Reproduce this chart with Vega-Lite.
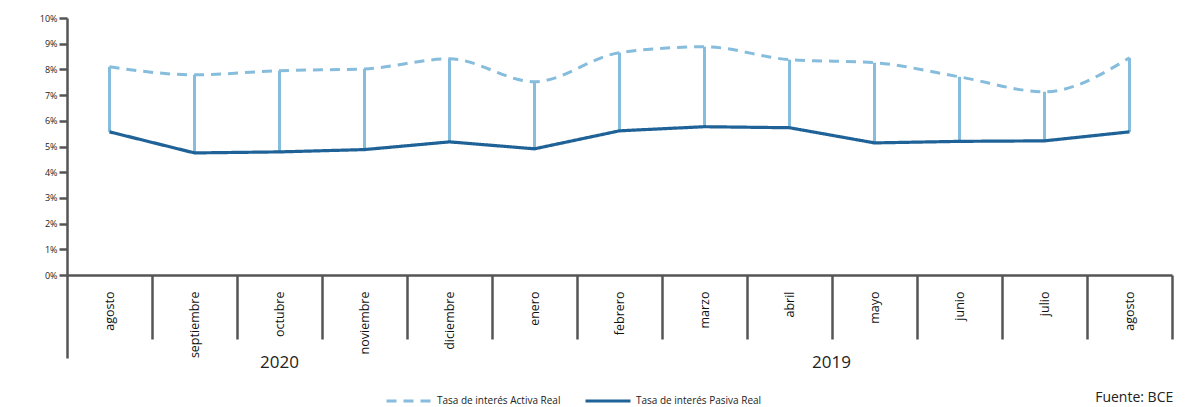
{
  "$schema": "https://vega.github.io/schema/vega-lite/v6.json",
  "width": 1105,
  "height": 257,
  "autosize": {"type": "none"},
  "padding": {"left": 67, "top": 18, "right": 16, "bottom": 132},
  "background": "white",
  "config": {"font": "Open Sans", "view": {"stroke": null}},
  "title": {"text": "Fuente: BCE", "orient": "bottom", "anchor": "end", "fontSize": 14, "fontWeight": "normal", "color": "#222", "offset": -16},
  "data": {
    "values": [
      {"mes": "agosto 2020", "Tasa de interés Activa Real": 8.1, "Tasa de interés Pasiva Real": 5.57},
      {"mes": "septiembre 2020", "Tasa de interés Activa Real": 7.79, "Tasa de interés Pasiva Real": 4.75},
      {"mes": "octubre 2020", "Tasa de interés Activa Real": 7.95, "Tasa de interés Pasiva Real": 4.79},
      {"mes": "noviembre 2020", "Tasa de interés Activa Real": 8.02, "Tasa de interés Pasiva Real": 4.88},
      {"mes": "diciembre 2020", "Tasa de interés Activa Real": 8.41, "Tasa de interés Pasiva Real": 5.18},
      {"mes": "enero 2019", "Tasa de interés Activa Real": 7.52, "Tasa de interés Pasiva Real": 4.91},
      {"mes": "febrero 2019", "Tasa de interés Activa Real": 8.65, "Tasa de interés Pasiva Real": 5.61},
      {"mes": "marzo 2019", "Tasa de interés Activa Real": 8.88, "Tasa de interés Pasiva Real": 5.77},
      {"mes": "abril 2019", "Tasa de interés Activa Real": 8.38, "Tasa de interés Pasiva Real": 5.73},
      {"mes": "mayo 2019", "Tasa de interés Activa Real": 8.26, "Tasa de interés Pasiva Real": 5.14},
      {"mes": "junio 2019", "Tasa de interés Activa Real": 7.71, "Tasa de interés Pasiva Real": 5.2},
      {"mes": "julio 2019", "Tasa de interés Activa Real": 7.13, "Tasa de interés Pasiva Real": 5.22},
      {"mes": "agosto 2019", "Tasa de interés Activa Real": 8.45, "Tasa de interés Pasiva Real": 5.57}
    ]
  },
  "resolve": {"axis": {"x": "independent"}},
  "layer": [
    {
      "mark": {"type": "rule", "color": "#86bcdc", "strokeWidth": 3},
      "encoding": {
        "x": {
          "field": "mes", "type": "ordinal",
          "scale": {"type": "band", "paddingInner": 0, "paddingOuter": 0,
            "domain": ["agosto 2020", "septiembre 2020", "octubre 2020", "noviembre 2020", "diciembre 2020", "enero 2019", "febrero 2019", "marzo 2019", "abril 2019", "mayo 2019", "junio 2019", "julio 2019", "agosto 2019"]},
          "axis": {
            "orient": "bottom",
            "title": null,
            "labelExpr": "split(datum.label, ' ')[0]",
            "labelAngle": -90,
            "labelFontSize": 12.5,
            "labelColor": "#111",
            "tickBand": "extent",
            "tickSize": {"condition": {"test": "datum.index < 0", "value": 83}, "value": 64},
            "tickWidth": 2.5,
            "tickColor": "#555",
            "domainColor": "#555",
            "domainWidth": 2.5,
            "labelPadding": -48
          }
        },
        "y": {
          "field": "Tasa de interés Activa Real", "type": "quantitative",
          "scale": {"domain": [0, 10], "nice": false},
          "axis": {
            "title": null,
            "values": [0, 1, 2, 3, 4, 5, 6, 7, 8, 9, 10],
            "labelExpr": "datum.value + '%'",
            "labelOverlap": false,
            "grid": false,
            "tickSize": 8,
            "tickWidth": 2.5,
            "tickColor": "#555",
            "domainColor": "#555",
            "domainWidth": 2.5,
            "labelFontSize": 9,
            "labelColor": "#222",
            "labelPadding": 2
          }
        },
        "y2": {"field": "Tasa de interés Pasiva Real"}
      }
    },
    {
      "transform": [
        {"fold": ["Tasa de interés Activa Real", "Tasa de interés Pasiva Real"], "as": ["serie", "valor"]},
        {"filter": "datum.serie == 'Tasa de interés Activa Real'"}
      ],
      "mark": {"type": "line", "strokeWidth": 3, "interpolate": "monotone"},
      "encoding": {
        "x": {
          "field": "mes", "type": "ordinal",
          "axis": {
            "orient": "bottom",
            "title": null,
            "labelExpr": "datum.value == 'octubre 2020' ? '2020' : (datum.value == 'abril 2019' ? '2019' : '')",
            "labelAngle": 0,
            "labelAlign": "center",
            "labelFontSize": 17,
            "labelColor": "#222",
            "labelOverlap": false,
            "ticks": false,
            "domain": false,
            "labelPadding": 79,
            "labelOffset": {"condition": {"test": "datum.value == 'abril 2019'", "value": 42}, "value": 0}
          }
        },
        "y": {
          "field": "valor", "type": "quantitative",
          "axis": {
            "title": null,
            "values": [0, 1, 2, 3, 4, 5, 6, 7, 8, 9, 10],
            "labelExpr": "datum.value + '%'",
            "labelOverlap": false,
            "grid": false,
            "tickSize": 8,
            "tickWidth": 2.5,
            "tickColor": "#555",
            "domainColor": "#555",
            "domainWidth": 2.5,
            "labelFontSize": 9,
            "labelColor": "#222",
            "labelPadding": 2
          }
        },
        "color": {
          "field": "serie", "type": "nominal",
          "scale": {"domain": ["Tasa de interés Activa Real", "Tasa de interés Pasiva Real"], "range": ["#86bcdc", "#1f6298"]},
          "legend": {
            "orient": "none", "legendX": 318, "legendY": 359, "direction": "horizontal",
            "title": null, "symbolType": "stroke", "symbolStrokeWidth": 3, "symbolSize": 2025,
            "labelFontSize": 10, "labelColor": "#222", "columnPadding": 18
          }
        },
        "strokeDash": {
          "field": "serie", "type": "nominal",
          "scale": {"domain": ["Tasa de interés Activa Real", "Tasa de interés Pasiva Real"], "range": [[10, 7], [1, 0]]},
          "legend": {
            "orient": "none", "legendX": 318, "legendY": 359, "direction": "horizontal",
            "title": null, "symbolType": "stroke", "symbolStrokeWidth": 3, "symbolSize": 2025,
            "labelFontSize": 10, "labelColor": "#222", "columnPadding": 18
          }
        }
      }
    },
    {
      "transform": [
        {"fold": ["Tasa de interés Activa Real", "Tasa de interés Pasiva Real"], "as": ["serie", "valor"]},
        {"filter": "datum.serie == 'Tasa de interés Pasiva Real'"}
      ],
      "mark": {"type": "line", "strokeWidth": 3.2, "interpolate": "linear"},
      "encoding": {
        "x": {"field": "mes", "type": "ordinal", "axis": {"orient": "bottom", "title": null, "labels": false, "ticks": false, "domain": false}},
        "y": {
          "field": "valor", "type": "quantitative",
          "axis": {
            "title": null,
            "values": [0, 1, 2, 3, 4, 5, 6, 7, 8, 9, 10],
            "labelExpr": "datum.value + '%'",
            "labelOverlap": false,
            "grid": false,
            "tickSize": 8,
            "tickWidth": 2.5,
            "tickColor": "#555",
            "domainColor": "#555",
            "domainWidth": 2.5,
            "labelFontSize": 9,
            "labelColor": "#222",
            "labelPadding": 2
          }
        },
        "color": {"field": "serie", "type": "nominal"},
        "strokeDash": {"field": "serie", "type": "nominal"}
      }
    }
  ]
}
